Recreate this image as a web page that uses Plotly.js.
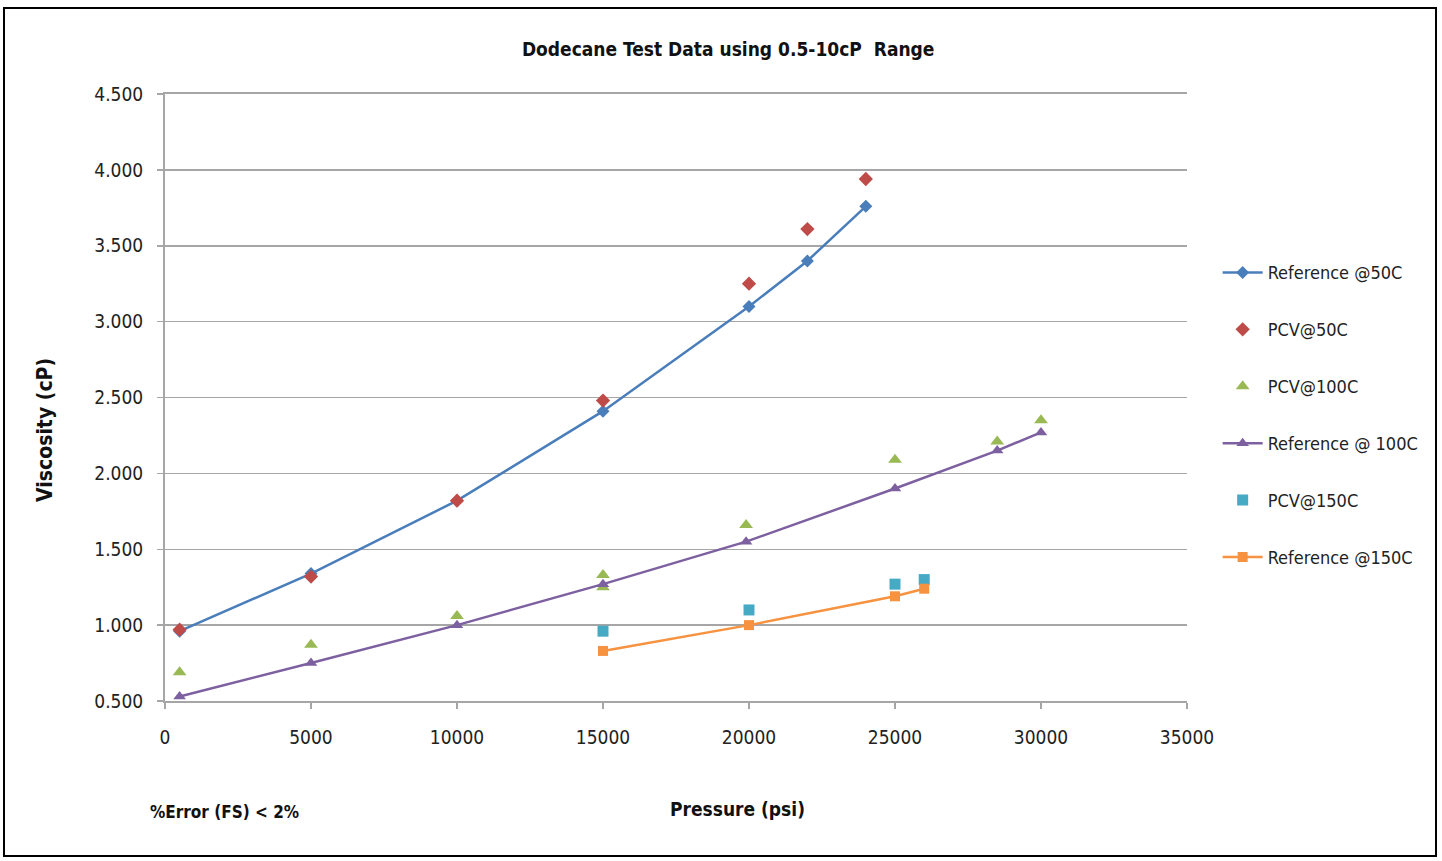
<!DOCTYPE html>
<html>
<head>
<meta charset="utf-8">
<script src="https://cdn.plot.ly/plotly-3.0.1.min.js"></script>
<style>
html,body{margin:0;padding:0;background:#fff;}
#frame{position:absolute;left:3px;top:7px;width:1434px;height:850px;border:2px solid #000;box-sizing:border-box;}
#chart{position:absolute;left:0;top:0;width:1442px;height:861px;}
</style>
</head>
<body>
<div id="chart"></div>
<div id="frame"></div>
<script>
// Data
const ref50X = [500, 5000, 10000, 15000, 20000, 22000, 24000];
const ref50Y = [0.96, 1.34, 1.82, 2.41, 3.10, 3.40, 3.76];
const pcv50X = [500, 5000, 10000, 15000, 20000, 22000, 24000];
const pcv50Y = [0.97, 1.32, 1.82, 2.48, 3.25, 3.61, 3.94];
const pcv100X = [500, 5000, 10000, 15000, 15000, 19900, 25000, 28500, 30000];
const pcv100Y = [0.69, 0.87, 1.06, 1.33, 1.25, 1.66, 2.09, 2.21, 2.35];
const ref100X = [500, 5000, 10000, 15000, 19900, 25000, 28500, 30000];
const ref100Y = [0.53, 0.75, 1.00, 1.27, 1.55, 1.90, 2.15, 2.27];
const pcv150X = [15000, 20000, 25000, 26000];
const pcv150Y = [0.96, 1.10, 1.27, 1.30];
const ref150X = [15000, 20000, 25000, 26000];
const ref150Y = [0.83, 1.00, 1.19, 1.24];
const xTicks = [0, 5000, 10000, 15000, 20000, 25000, 30000, 35000];
const yTicks = [0.5, 1.0, 1.5, 2.0, 2.5, 3.0, 3.5, 4.0, 4.5];

const FONT = '"DejaVu Sans Condensed", "Liberation Sans Narrow", Arial, sans-serif';

const traces = [
  {x: ref50X, y: ref50Y, name: 'Reference @50C', mode: 'lines+markers', legendgroup: 'a',
   line: {color: '#4A7EBB', width: 2.5}, marker: {symbol: 'diamond', size: 10, color: '#4A7EBB'}},
  {x: pcv50X, y: pcv50Y, name: 'PCV@50C', mode: 'markers', legendgroup: 'b',
   marker: {symbol: 'diamond', size: 11, color: '#BE4B48'}},
  {x: pcv100X, y: pcv100Y, name: 'PCV@100C', mode: 'markers', legendgroup: 'c',
   marker: {symbol: 'triangle-up', size: 12, color: '#98B954'}},
  {x: ref100X, y: ref100Y, name: 'Reference @ 100C', mode: 'lines+markers', legendgroup: 'd',
   line: {color: '#7D60A0', width: 2.5}, marker: {symbol: 'triangle-up', size: 11, color: '#7D60A0'}},
  {x: pcv150X, y: pcv150Y, name: 'PCV@150C', mode: 'markers', legendgroup: 'e',
   marker: {symbol: 'square', size: 11, color: '#46AAC5'}},
  {x: ref150X, y: ref150Y, name: 'Reference @150C', mode: 'lines+markers', legendgroup: 'f',
   line: {color: '#F69240', width: 2.5}, marker: {symbol: 'square', size: 10, color: '#F69240'}}
];

const layout = {
  width: 1442, height: 861,
  margin: {l: 165, r: 255, t: 94, b: 160},
  paper_bgcolor: '#fff', plot_bgcolor: '#fff',
  font: {family: FONT, size: 18, color: '#222'},
  title: {text: '<b>Dodecane Test Data using 0.5-10cP  Range</b>', x: 0.505, xanchor: 'center', y: 0.943, yanchor: 'middle',
          font: {family: FONT, size: 19, color: '#111'}},
  xaxis: {
    range: [0, 35000], tickvals: xTicks, ticktext: xTicks.map(String),
    showgrid: false, zeroline: false, showline: true, mirror: true, linecolor: '#A6A6A6', linewidth: 2,
    ticks: 'outside', ticklen: 6, tickcolor: '#A6A6A6', tickwidth: 1.5, ticklabelstandoff: 12,
    tickfont: {family: FONT, size: 19, color: '#222'}
  },
  yaxis: {
    range: [0.5, 4.5], tickvals: yTicks, tickformat: '.3f',
    showgrid: true, gridcolor: '#A6A6A6', gridwidth: 1.5, zeroline: false,
    showline: true, linecolor: '#A6A6A6', linewidth: 2,
    ticks: 'outside', ticklen: 6, tickcolor: '#A6A6A6', tickwidth: 1.5, ticklabelstandoff: 10,
    tickfont: {family: FONT, size: 19, color: '#222'}
  },
  legend: {
    x: 1.03, xanchor: 'left', y: 0.736, yanchor: 'top',
    font: {family: FONT, size: 18, color: '#222'},
    tracegroupgap: 30.5, itemwidth: 40, bgcolor: 'rgba(0,0,0,0)'
  },
  annotations: [
    {text: '<b>%Error (FS) < 2%</b>', xref: 'paper', yref: 'paper', x: (224 - 165) / 1022, y: (701 - 812) / 607,
     xanchor: 'center', yanchor: 'middle', showarrow: false, font: {family: FONT, size: 17, color: '#111'}},
    {text: '<b>Pressure (psi)</b>', xref: 'paper', yref: 'paper', x: (737 - 165) / 1022, y: (701 - 809) / 607,
     xanchor: 'center', yanchor: 'middle', showarrow: false, font: {family: FONT, size: 19, color: '#111'}},
    {text: '<b>Viscosity (cP)</b>', xref: 'paper', yref: 'paper', x: (45 - 165) / 1022, y: (701 - 430) / 607,
     xanchor: 'center', yanchor: 'middle', textangle: -90, showarrow: false, font: {family: FONT, size: 21, color: '#111'}}
  ],
  showlegend: true
};

Plotly.newPlot('chart', traces, layout, {displayModeBar: false, staticPlot: true});
</script>
</body>
</html>
